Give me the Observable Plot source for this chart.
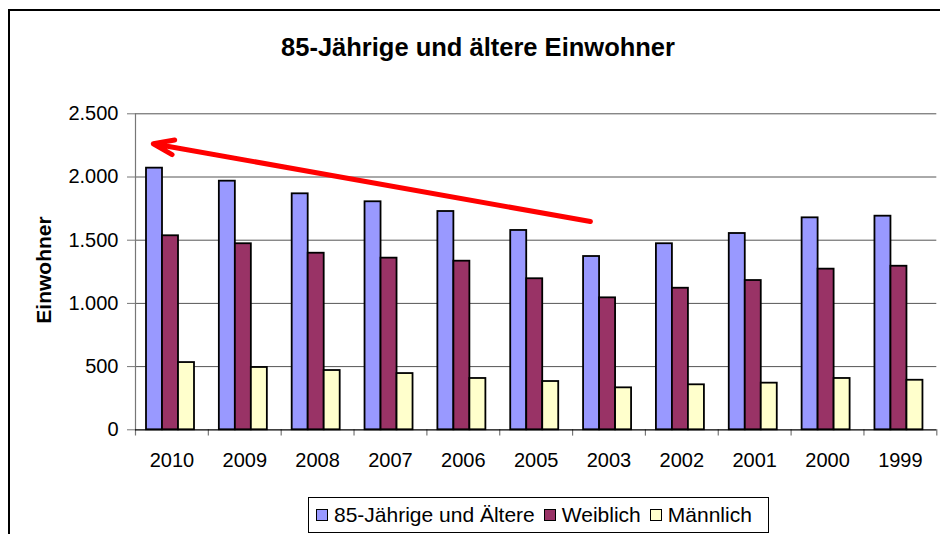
<!DOCTYPE html>
<html>
<head>
<meta charset="utf-8">
<script src="https://cdn.jsdelivr.net/npm/d3@7"></script>
<script src="https://cdn.jsdelivr.net/npm/@observablehq/plot@0.6"></script>
<style>
  html, body { margin: 0; padding: 0; background: #fff; }
  body { width: 940px; height: 534px; position: relative; overflow: hidden; font-family: "Liberation Sans", Arial, sans-serif; }
  #frame { position: absolute; left: 8px; top: 9px; width: 940px; height: 600px; border-left: 2px solid #000; border-top: 2px solid #000; box-sizing: border-box; }
  #title { position: absolute; left: 0; width: 956px; top: 33px; text-align: center; font-weight: bold; font-size: 25.5px; color: #000; white-space: nowrap; }
  #chart { position: absolute; left: 0; top: 0; }
  #ylabel { position: absolute; left: 44px; top: 270px; transform: translate(-50%, -50%) rotate(-90deg); font-weight: bold; font-size: 21px; white-space: nowrap; }
  #legend { position: absolute; left: 308px; top: 497px; width: 461px; height: 36px; border: 1px solid #000; box-sizing: border-box; display: flex; align-items: center; justify-content: flex-start; padding-left: 7px; font-size: 21px; white-space: nowrap; background: #fff; }
  .item { display: flex; align-items: center; margin-right: 9px; }
  .sw { width: 10px; height: 10px; border: 1px solid #000; margin-right: 6px; }
</style>
</head>
<body>
<div id="frame"></div>
<div id="title">85-Jährige und ältere Einwohner</div>
<div id="chart"></div>
<div id="ylabel">Einwohner</div>
<div id="legend"></div>
<script>
// ---- data ----
const years = ["2010", "2009", "2008", "2007", "2006", "2005", "2003", "2002", "2001", "2000", "1999"];
const seriesNames = ["85-Jährige und Ältere", "Weiblich", "Männlich"];
const gesamt   = [2070, 1967, 1867, 1804, 1727, 1577, 1371, 1472, 1553, 1677, 1690];
const weiblich = [1535, 1472, 1397, 1358, 1334, 1195, 1044, 1120, 1181, 1271, 1294];
const maennlich = [532, 493, 469, 445, 406, 382, 332, 356, 369, 406, 392];
const yTicks = [0, 500, 1000, 1500, 2000, 2500];
const colors = ["#9999FF", "#993366", "#FFFFCC"];
// trend arrow annotation (from 2003 back to 2010)
const trend = [{from: "2003", fromValue: 1648, to: "2010", toValue: 2263}];

const seriesValues = [gesamt, weiblich, maennlich];
const fmt = d3.formatLocale({decimal: ",", thousands: ".", grouping: [3], currency: ["", " €"]}).format(",d");

const W = 940, H = 475;
const mL = 135, mR = 3.7, mT = 113.3, mB = H - 429.3;
const band = (W - mL - mR) / years.length;
const barW = 16, padL = 11;

const barMarks = seriesValues.map((vals, i) =>
  Plot.barY(years.map((y, j) => ({year: y, value: vals[j]})), {
    x: "year", y: "value",
    fill: colors[i], stroke: "#000", strokeWidth: 1.8,
    insetLeft: padL + i * barW,
    insetRight: band - padL - (i + 1) * barW
  })
);

const plot = Plot.plot({
  width: W, height: H,
  marginLeft: mL, marginRight: mR, marginTop: mT, marginBottom: mB,
  style: {fontFamily: "Liberation Sans, Arial, sans-serif", fontSize: "20px", color: "#000", background: "transparent"},
  x: {domain: years, padding: 0, round: false, axis: null},
  y: {domain: [0, 2500], axis: null},
  marks: [
    Plot.ruleY(yTicks.filter(d => d > 0), {stroke: "#555", strokeWidth: 1}),
    // category boundary ticks (below axis) and y-axis line
    Plot.ruleX(years, {x: d => d, y1: -50, y2: d => d === years[0] ? 2500 : 0, dx: -band / 2, stroke: "#777", strokeWidth: 1.2}),
    Plot.ruleX([years[years.length - 1]], {x: d => d, y1: -50, y2: 0, dx: band / 2, stroke: "#777", strokeWidth: 1.2}),
    ...barMarks,
    Plot.ruleY([0], {stroke: "#000", strokeWidth: 1.2}),
    Plot.axisX({tickSize: 0, tickPadding: 23, fontSize: 20, anchor: "bottom"}),
    Plot.axisY({ticks: yTicks, tickFormat: fmt, tickSize: 8, tickPadding: 9, fontSize: 20, anchor: "left", stroke: "#777"}),
    Plot.arrow(trend, {x1: "from", y1: "fromValue", x2: "to", y2: "toValue", dx: -18.6, stroke: "#FF0000", strokeWidth: 5, headLength: 6.5, headAngle: 40})
  ]
});
document.getElementById("chart").appendChild(plot);

// legend
const legend = document.getElementById("legend");
seriesNames.forEach((name, i) => {
  const it = document.createElement("div");
  it.className = "item";
  const sw = document.createElement("div");
  sw.className = "sw";
  sw.style.background = colors[i];
  const t = document.createElement("span");
  t.textContent = name;
  it.appendChild(sw); it.appendChild(t);
  legend.appendChild(it);
});
</script>
</body>
</html>
